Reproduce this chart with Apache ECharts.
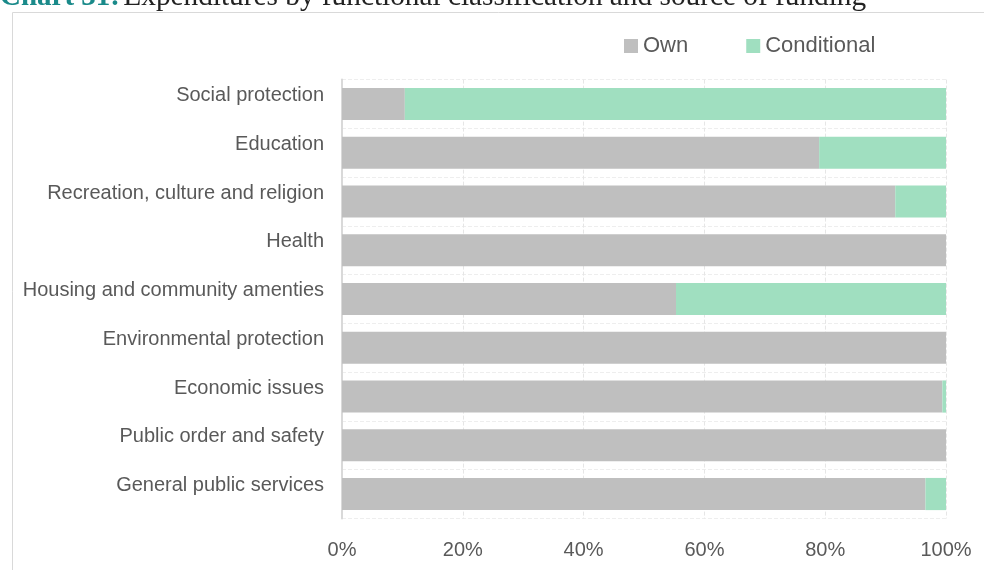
<!DOCTYPE html>
<html><head><meta charset="utf-8">
<script src="https://cdn.jsdelivr.net/npm/echarts@6/dist/echarts.min.js"></script>
<style>html,body{margin:0;padding:0;background:#fff}#c{width:984px;height:570px}</style>
</head><body><div id="c"></div>
<script>
const categories = ["General public services","Public order and safety","Economic issues","Environmental protection","Housing and community amenties","Health","Recreation, culture and religion","Education","Social protection"];
const own = [96.6, 100, 99.4, 100, 55.3, 100, 91.6, 79.0, 10.4];
const conditional = [3.4, 0, 0.6, 0, 44.7, 0, 8.4, 21.0, 89.6];
const seriesNames = ["Own","Conditional"];
const FONT = '"Liberation Sans Narrow","Arial Narrow","Liberation Sans",sans-serif';
const chart = echarts.init(document.getElementById('c'), null, {renderer:'canvas'});
chart.setOption({
  animation:false,
  graphic:[
    {type:'rect', shape:{x:12.5,y:12.5,width:1000,height:600}, style:{fill:null,stroke:'#d9d9d9',lineWidth:1}, z:0},
    {type:'text', x:0, y:12, style:{verticalAlign:'bottom', rich:{a:{fill:'#1a8a8a',font:'bold 29px "Liberation Serif",serif'},b:{fill:'#222',font:'29.3px "Liberation Serif",serif'}}, text:'{a|Chart 31:} {b|Expenditures by functional classification and source of funding}'}}
  ],
  legend:{top:30, left:619, itemWidth:14, itemHeight:14, itemGap:58, icon:'rect',
    textStyle:{fontFamily:FONT,fontSize:22,color:'#595959'}, data:seriesNames},
  grid:{left:342, right:38, top:79.6, bottom:51.6, containLabel:false},
  xAxis:{type:'value', min:0, max:100, interval:20,
    axisLabel:{formatter:'{value}%', fontFamily:FONT, fontSize:20, color:'#595959', margin:22},
    axisLine:{show:false}, axisTick:{show:false},
    splitLine:{show:true, lineStyle:{color:'#e6e6e6', type:'dashed', width:1}}},
  yAxis:{type:'category', data:categories,
    axisLabel:{fontFamily:FONT, fontSize:20, lineHeight:17, verticalAlign:'bottom', color:'#595959', margin:18},
    axisLine:{show:true, lineStyle:{color:'#d9d9d9', width:2}}, axisTick:{show:false},
    splitLine:{show:true, lineStyle:{color:'#eeeeee', type:'dashed', width:1}}},
  series:[
    {name:seriesNames[0], type:'bar', stack:'s', data:own, barCategoryGap:'34%', itemStyle:{color:'#bfbfbf'}},
    {name:seriesNames[1], type:'bar', stack:'s', data:conditional, itemStyle:{color:'#a0dfc0'}}
  ]
});
</script></body></html>
